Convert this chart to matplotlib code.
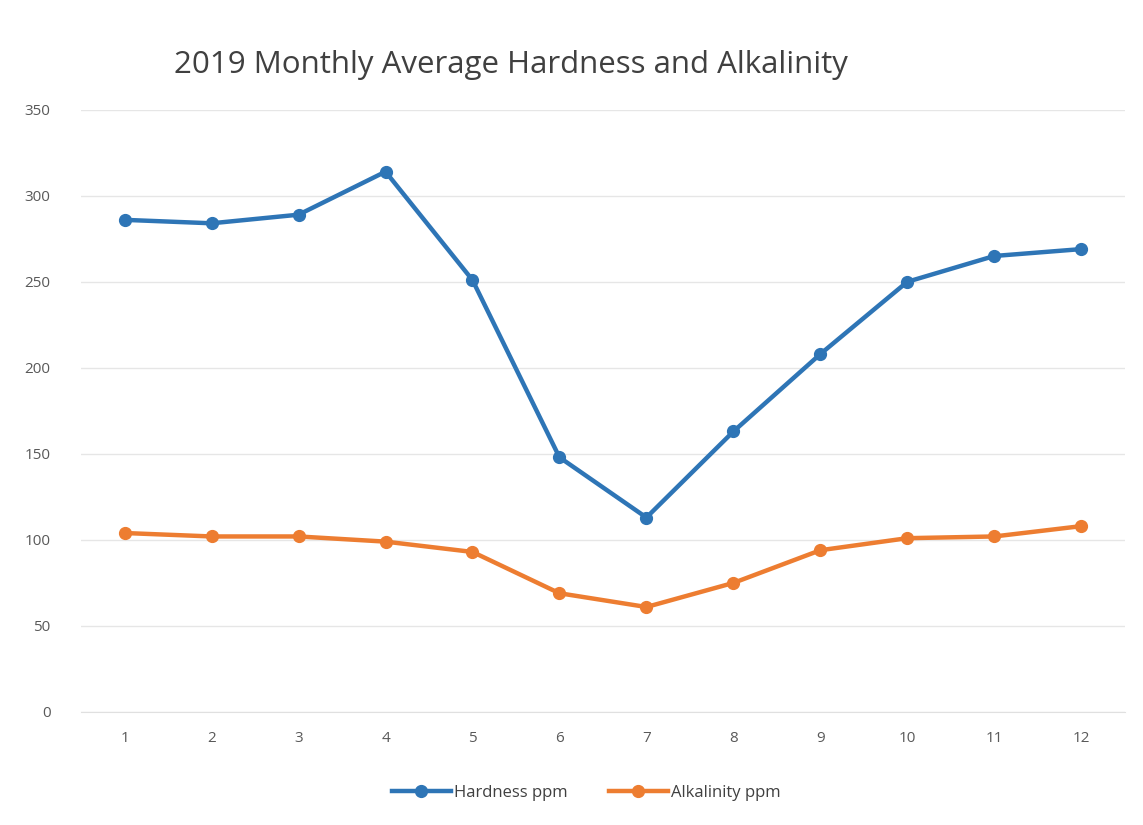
import matplotlib.pyplot as plt

months = list(range(1, 13))
hardness = [286, 284, 289, 314, 251, 148, 113, 163, 208, 250, 265, 269]
alkalinity = [104, 102, 102, 99, 93, 69, 61, 75, 94, 101, 102, 108]

plt.rcParams['font.family'] = ['Open Sans', 'DejaVu Sans']

fig = plt.figure(figsize=(11.43, 8.25), dpi=100)
ax = fig.add_axes([0.071, 0.137, 0.913, 0.73])

ax.plot(months, hardness, color='#2E75B6', lw=3.2, marker='o', markersize=8.5,
        label='Hardness ppm')
ax.plot(months, alkalinity, color='#ED7D31', lw=3.2, marker='o', markersize=8.5,
        label='Alkalinity ppm')

ax.set_xlim(0.5, 12.5)
ax.set_ylim(0, 350)
ax.set_yticks(range(0, 351, 50))
ax.set_xticks(months)
ax.grid(axis='y', color='#E6E6E6', lw=1)
ax.set_axisbelow(True)
for s in ax.spines.values():
    s.set_visible(False)
ax.spines['bottom'].set_visible(True)
ax.spines['bottom'].set_color('#E0E0E0')
ax.tick_params(length=0, labelsize=11, labelcolor='#595959', pad=14)
ax.tick_params(axis='y', pad=22)

fig.text(0.447, 0.921, '2019 Monthly Average Hardness and Alkalinity',
         ha='center', va='center', fontsize=22.5, color='#404040')

fig.legend(loc='center', bbox_to_anchor=(0.513, 0.039), ncol=2, frameon=False,
           fontsize=12, labelcolor='#404040', handlelength=3.5, columnspacing=2.5,
           handletextpad=0.2)

fig.savefig('out.png', dpi=100)
